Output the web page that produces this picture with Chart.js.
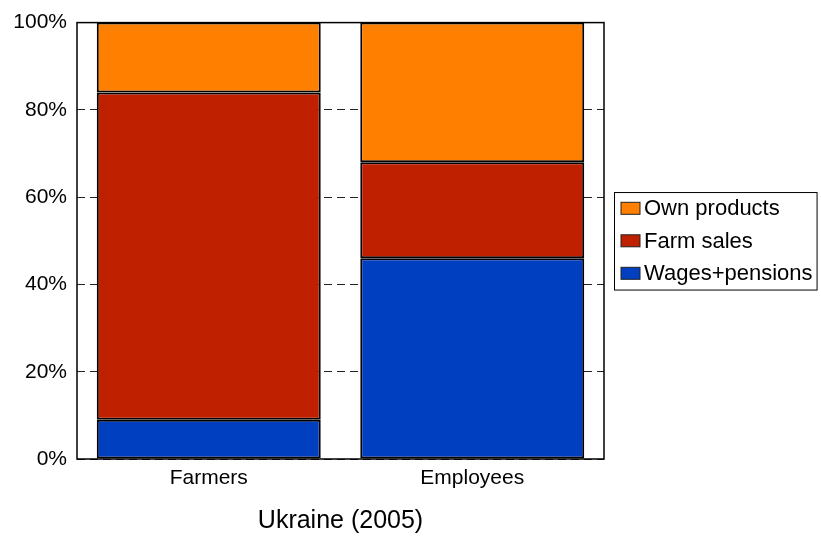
<!DOCTYPE html>
<html>
<head>
<meta charset="utf-8">
<script src="https://cdn.jsdelivr.net/npm/chart.js@4"></script>
<style>
  html, body { margin: 0; padding: 0; background: #fff; }
  #wrap { width: 821px; height: 538px; }
</style>
</head>
<body>
<div id="wrap"><canvas id="chart" width="821" height="538"></canvas></div>
<script>
const categories = ['Farmers', 'Employees'];
const seriesNames = ['Wages+pensions', 'Farm sales', 'Own products'];
const wagesPensions = [9, 46];
const farmSales = [75, 22];
const ownProducts = [16, 32];
const yTicks = [0, 20, 40, 60, 80, 100];
const colors = ['#0040C0', '#BF2000', '#FF8000'];

const FONT = '"Liberation Sans", Arial, sans-serif';

// frame around the plot + boxed legend on the right
const framePlugin = {
    id: 'frame',
    afterDatasetsDraw(chart) {
        const { ctx, chartArea: a } = chart;
        ctx.save();
        ctx.strokeStyle = '#000';
        ctx.lineWidth = 1.5;
        ctx.strokeRect(a.left, a.top, a.right - a.left, a.bottom - a.top);
        ctx.restore();
    },
    afterDraw(chart) {
        const { ctx, chartArea: a } = chart;
        const sets = chart.data.datasets.slice().reverse();
        ctx.save();
        ctx.font = '22px ' + FONT;
        let maxW = 0;
        sets.forEach(d => { maxW = Math.max(maxW, ctx.measureText(d.label).width); });
        const rowH = 32.5;
        const boxW = 30 + maxW + 4;
        const boxH = rowH * sets.length;
        const left = a.right + 10;
        const top = (a.top + a.bottom) / 2 - boxH / 2;
        ctx.fillStyle = '#fff';
        ctx.fillRect(left, top, boxW, boxH);
        ctx.strokeStyle = '#000';
        ctx.lineWidth = 1;
        ctx.strokeRect(left + 0.5, top + 0.5, boxW, boxH);
        ctx.textBaseline = 'middle';
        sets.forEach((d, i) => {
            const cy = top + rowH * i + rowH / 2;
            ctx.fillStyle = d.backgroundColor;
            ctx.fillRect(left + 7, cy - 6, 19, 12);
            ctx.strokeStyle = '#222';
            ctx.strokeRect(left + 7, cy - 6, 19, 12);
            ctx.fillStyle = '#000';
            ctx.fillText(d.label, left + 30, cy + 1);
        });
        ctx.restore();
    }
};

const datasets = [wagesPensions, farmSales, ownProducts].map((vals, i) => ({
    label: seriesNames[i],
    data: vals,
    backgroundColor: colors[i],
    borderColor: '#000',
    borderWidth: 2,
    borderSkipped: false,
    barPercentage: 0.85,
    categoryPercentage: 1
}));

new Chart(document.getElementById('chart'), {
    type: 'bar',
    data: { labels: categories, datasets },
    options: {
        responsive: false,
        animation: false,
        layout: { padding: { top: 21, right: 217, left: 0, bottom: 0 } },
        plugins: {
            legend: { display: false },
            tooltip: { enabled: false }
        },
        scales: {
            x: {
                stacked: true,
                grid: { display: false, drawTicks: false },
                border: { display: false },
                ticks: { color: '#000', padding: 7, font: { family: FONT, size: 21 } },
                title: {
                    display: true,
                    text: 'Ukraine (2005)',
                    color: '#000',
                    font: { family: FONT, size: 25 },
                    padding: { top: 4, bottom: 2 }
                },
                afterFit(scale) { scale.height = 79; }
            },
            y: {
                stacked: true,
                min: 0,
                max: 100,
                afterBuildTicks(scale) { scale.ticks = yTicks.map(v => ({ value: v })); },
                grid: { color: '#222', lineWidth: 1, drawTicks: false },
                border: { display: false, dash: [8, 5] },
                ticks: {
                    color: '#000',
                    padding: 10,
                    font: { family: FONT, size: 21 },
                    callback: v => v + '%'
                },
                afterFit(scale) { scale.width = 77; }
            }
        }
    },
    plugins: [framePlugin]
});
</script>
</body>
</html>
